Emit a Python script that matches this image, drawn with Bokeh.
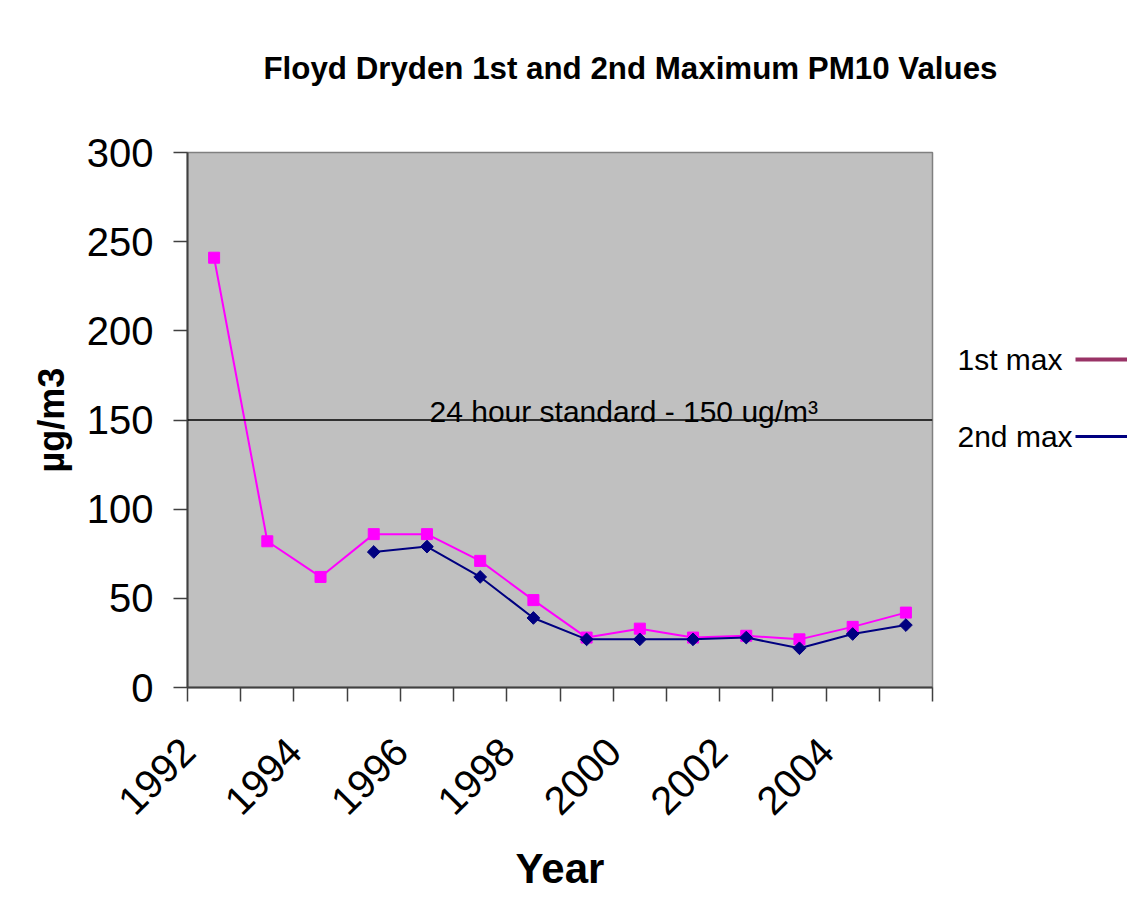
import math
from bokeh.plotting import figure
from bokeh.models import FixedTicker, Label, Span, Range1d, ColumnDataSource, LinearAxis
from bokeh.embed import file_html
from bokeh.resources import INLINE

# ---- data ----
years = [1992, 1993, 1994, 1995, 1996, 1997, 1998, 1999, 2000, 2001, 2002, 2003, 2004, 2005]
first_max = [241, 82, 62, 86, 86, 71, 49, 28, 33, 28, 29, 27, 34, 42]
second_max = [float("nan"), float("nan"), float("nan"), 76, 79, 62, 39, 27, 27, 27, 28, 22, 30, 35]
label_years = [1992, 1994, 1996, 1998, 2000, 2002, 2004]
y_ticks = [0, 50, 100, 150, 200, 250, 300]
standard = 150
series_names = ["1st max", "2nd max"]
legend_colors = ["#993366", "#000080"]
legend_rows = [184, 141]          # vertical placement of legend rows (value axis)

FONT = "Liberation Sans"

xpos = [i + 0.5 for i in range(len(years))]
src = ColumnDataSource(dict(x=xpos, y1=first_max, y2=second_max))

p = figure(frame_width=745, frame_height=535,
           min_border_left=187, min_border_right=195,
           min_border_top=152, min_border_bottom=212,
           x_range=Range1d(0, len(years)), y_range=Range1d(0, 300),
           output_backend="svg", toolbar_location=None,
           background_fill_color="#C0C0C0", border_fill_color="white")
p.outline_line_color = "#808080"
p.outline_line_width = 1.5
p.grid.visible = False

# title
p.title.text = "Floyd Dryden 1st and 2nd Maximum PM10 Values"
p.title.text_font = FONT
p.title.text_font_size = "31.3px"
p.title.text_font_style = "bold"
p.title.text_color = "black"
p.title.align = "left"
p.title.offset = 76
p.title.standoff = 10

# x axis (labels are placed at the left edge of their category, Excel style)
xax = p.below[0]
label_pos = [years.index(y) + 0.01 for y in label_years]
xax.ticker = FixedTicker(ticks=label_pos, minor_ticks=list(range(len(years) + 1)))
xax.major_label_overrides = {pos: str(y) for pos, y in zip(label_pos, label_years)}
xax.major_tick_out = 0
xax.major_tick_in = 0
xax.minor_tick_out = 14
xax.minor_tick_in = 0
xax.minor_tick_line_color = "#404040"
xax.minor_tick_line_width = 1.5
xax.axis_line_color = "#404040"
xax.axis_line_width = 2
xax.major_label_orientation = math.pi / 4
xax.major_label_text_font = FONT
xax.major_label_text_font_size = "40px"
xax.major_label_text_color = "black"
xax.major_label_standoff = 43
xax.axis_label = "Year"
xax.axis_label_text_font = FONT
xax.axis_label_text_font_size = "42px"
xax.axis_label_text_font_style = "bold"
xax.axis_label_text_color = "black"
xax.axis_label_standoff = 15

# y axis
yax = p.left[0]
yax.ticker = FixedTicker(ticks=y_ticks)
yax.major_tick_out = 14
yax.major_tick_in = 0
yax.minor_tick_out = 0
yax.minor_tick_in = 0
yax.major_tick_line_color = "#404040"
yax.major_tick_line_width = 1.5
yax.axis_line_color = "#404040"
yax.axis_line_width = 2
yax.major_label_text_font = FONT
yax.major_label_text_font_size = "40px"
yax.major_label_text_color = "black"
yax.major_label_standoff = 20
yax.axis_label = "µg/m3"
yax.axis_label_text_font = FONT
yax.axis_label_text_font_size = "36px"
yax.axis_label_text_font_style = "bold"
yax.axis_label_text_color = "black"
yax.axis_label_standoff = 12

# invisible spacer between the frame and the title
spacer_tick = len(years) / 2
spacer = LinearAxis(ticker=FixedTicker(ticks=[spacer_tick]),
                    major_label_overrides={spacer_tick: ""},
                    axis_line_color=None, major_tick_line_color=None,
                    minor_tick_line_color=None, major_tick_out=62, major_tick_in=0,
                    major_label_standoff=0, major_label_text_font_size="1px")
p.add_layout(spacer, "above")

# standard line
p.add_layout(Span(location=standard, dimension="width", line_color="black", line_width=1.5))
p.add_layout(Label(x=242, y=276, x_units="screen", y_units="screen",
                   text="24 hour standard - 150 ug/m³", text_font=FONT,
                   text_font_size="30px", text_color="black", text_baseline="alphabetic"))

# series
p.line("x", "y1", source=src, line_color="#FF00FF", line_width=2)
p.scatter("x", "y1", source=src, marker="square", size=11, fill_color="#FF00FF", line_color="#FF00FF")
p.line("x", "y2", source=src, line_color="#000080", line_width=2)
p.scatter("x", "y2", source=src, marker="square", angle=math.pi / 4, size=9,
          fill_color="#000080", line_color="#000080")

# legend (Excel style: text, then line sample) built from stacked right-side axes
leg_text = LinearAxis(ticker=FixedTicker(ticks=legend_rows),
                      major_label_overrides={v: n for v, n in zip(legend_rows, series_names)},
                      axis_line_color=None, major_tick_line_color=None,
                      minor_tick_line_color=None, major_tick_out=0, major_tick_in=0,
                      major_label_standoff=25, major_label_text_font=FONT,
                      major_label_text_font_size="30px", major_label_text_color="black")
p.add_layout(leg_text, "right")

for row, col, lw, length in zip(legend_rows, legend_colors, [4, 3], [53, 57]):
    ax = LinearAxis(ticker=FixedTicker(ticks=[row]),
                    major_label_overrides={row: ""},
                    axis_line_color=None, minor_tick_line_color=None,
                    major_tick_out=0, major_tick_in=-length,
                    major_tick_line_color=col, major_tick_line_width=lw,
                    major_label_standoff=0, major_label_text_font_size="1px")
    p.add_layout(ax, "right")

open("out.html", "w").write(file_html(p, INLINE))
